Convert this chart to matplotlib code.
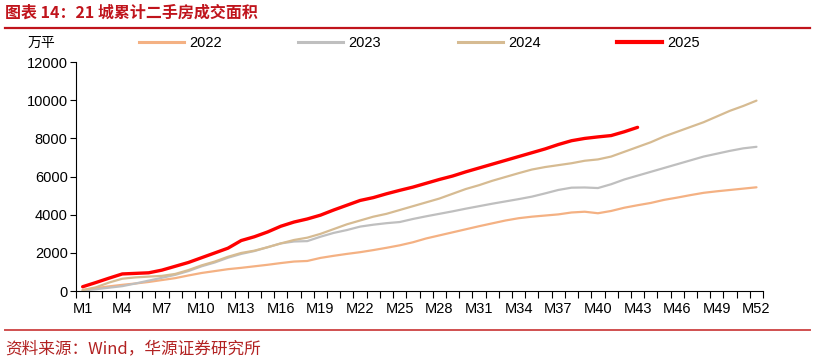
import matplotlib.pyplot as plt
from matplotlib.lines import Line2D

plt.rcParams['font.family'] = ['Liberation Sans', 'Noto Sans CJK SC', 'DejaVu Sans']

weeks = [f'M{i}' for i in range(1, 53)]

v2022 = [60, 150, 250, 330, 400, 480, 580, 680, 820, 950,
         1050, 1150, 1220, 1300, 1380, 1470, 1550, 1580, 1740, 1850,
         1950, 2040, 2150, 2270, 2400, 2560, 2760, 2920, 3080, 3240,
         3400, 3550, 3700, 3820, 3900, 3960, 4020, 4120, 4160, 4080,
         4200, 4370, 4500, 4620, 4780, 4900, 5030, 5150, 5230, 5300,
         5370, 5440]
v2023 = [30, 100, 180, 260, 400, 550, 700, 850, 1050, 1300,
         1500, 1750, 1950, 2100, 2300, 2500, 2600, 2620, 2850, 3050,
         3200, 3380, 3480, 3560, 3620, 3780, 3920, 4050, 4180, 4320,
         4450, 4580, 4700, 4820, 4950, 5120, 5300, 5420, 5430, 5400,
         5600, 5850, 6050, 6250, 6450, 6650, 6850, 7050, 7200, 7350,
         7480, 7560]
v2024 = [50, 200, 450, 650, 720, 760, 800, 900, 1100, 1350,
         1550, 1800, 2000, 2120, 2300, 2500, 2680, 2800, 3000, 3250,
         3500, 3700, 3900, 4050, 4250, 4450, 4650, 4850, 5100, 5350,
         5550, 5780, 5980, 6180, 6370, 6500, 6600, 6700, 6830, 6900,
         7050, 7300, 7550, 7800, 8100, 8350, 8600, 8850, 9150, 9450,
         9700, 9980]
v2025 = [230, 450, 680, 900, 930, 960, 1100, 1300, 1500, 1750,
         2000, 2250, 2650, 2850, 3100, 3400, 3620, 3780, 3980, 4250,
         4500, 4750, 4900, 5100, 5280, 5450, 5650, 5850, 6030, 6250,
         6450, 6650, 6850, 7050, 7250, 7450, 7680, 7880, 8000, 8080,
         8150, 8350, 8580]

series = [
    ('2022', v2022, '#F4B183', 1.6),
    ('2023', v2023, '#BFBFBF', 1.6),
    ('2024', v2024, '#D6BB92', 1.6),
    ('2025', v2025, '#FF0000', 2.4),
]

fig = plt.figure(figsize=(8.15, 3.63), dpi=100)
ax = fig.add_axes([0.0933, 0.198, 0.843, 0.631])

for name, vals, color, lw in series:
    x = range(1, len(vals) + 1)
    ax.plot(x, vals, color=color, lw=lw, label=name, solid_capstyle='round')

ax.set_xlim(0.5, 52.5)
ax.set_ylim(0, 12000)
ax.set_yticks(range(0, 12001, 2000))
ax.set_xticks(range(1, 53, 3))
ax.set_xticklabels(weeks[::3])
ax.set_xticks([i + 0.5 for i in range(0, 53)], minor=True)
ax.tick_params(axis='x', which='major', length=0, pad=8, labelsize=10.5)
ax.tick_params(axis='x', which='minor', length=5, width=0.8, direction='out')
ax.tick_params(axis='y', length=4, width=0.8, direction='out', labelsize=10.5, pad=2)
for s in ['top', 'right']:
    ax.spines[s].set_visible(False)
for s in ['left', 'bottom']:
    ax.spines[s].set_linewidth(0.8)

# legend across the top
handles = [Line2D([], [], color=c, lw=(3 if n == '2025' else 2.2)) for n, v, c, lw in series]
fig.legend(handles, [s[0] for s in series], loc='center left',
           bbox_to_anchor=(0.154, 0.882), ncol=4, frameon=False,
           handlelength=3.1, handletextpad=0.35, columnspacing=5.25,
           fontsize=10.5)

fig.text(0.034, 0.882, '万平', fontsize=10, family='Noto Sans CJK SC',
         va='center', ha='left')

# header and footer
fig.text(0.006, 0.965, '图表 14：21 城累计二手房成交面积', fontsize=11.5,
         fontweight='bold', color='#C0141C', family='Noto Sans CJK SC',
         va='center', ha='left')
fig.add_artist(Line2D([0.006, 0.994], [0.923, 0.923], color='#C0141C', lw=1.6))
fig.add_artist(Line2D([0.006, 0.994], [0.091, 0.091], color='#D05050', lw=1.4))
fig.text(0.006, 0.04, '资料来源：Wind，华源证券研究所', fontsize=12,
         color='#B22222', family='Noto Sans CJK SC', va='center', ha='left')

fig.savefig('out.png', dpi=100)
